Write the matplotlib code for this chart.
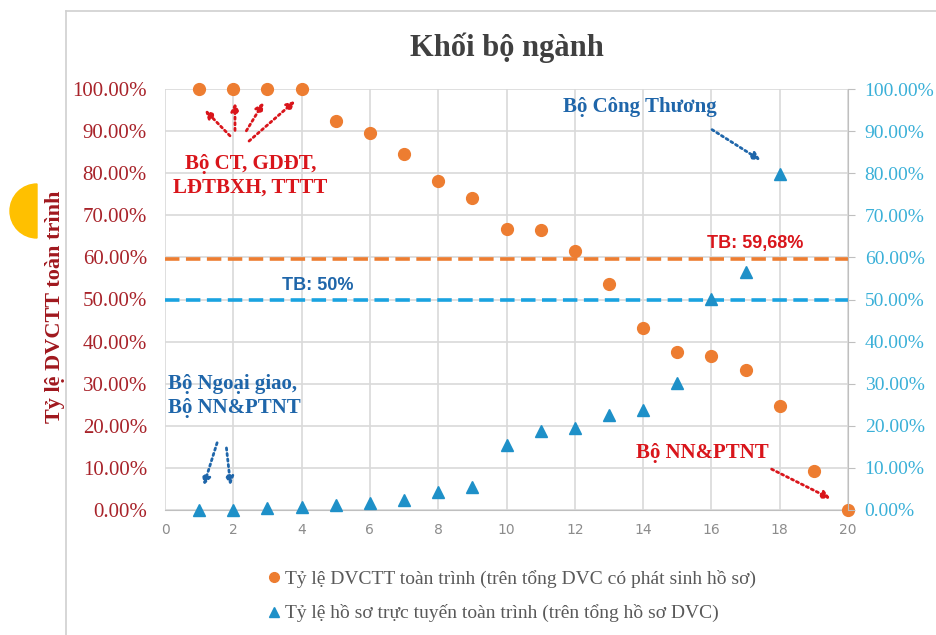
import matplotlib.pyplot as plt
from matplotlib.patches import Wedge
from matplotlib.lines import Line2D
from matplotlib.ticker import FuncFormatter

# Dữ liệu
stt = list(range(1, 21))
ty_le_dvctt = [100, 100, 100, 100, 92.4, 89.5, 84.6, 78.1, 74.1, 66.7,
               66.5, 61.5, 53.7, 43.2, 37.5, 36.6, 33.3, 24.7, 9.3, 0]
ty_le_ho_so = [0, 0, 0.5, 0.7, 1.2, 1.7, 2.4, 4.3, 5.5, 15.4,
               18.8, 19.5, 22.6, 23.8, 30.2, 50.1, 56.5, 79.8]
tb_dvctt = 59.68
tb_ho_so = 50
nhan_x = [0, 2, 4, 6, 8, 10, 12, 14, 16, 18, 20]
nhan_y = [0, 10, 20, 30, 40, 50, 60, 70, 80, 90, 100]

cam = '#ED7D31'
xanh = '#1E90C8'
xanh_nhat = '#1AA3E0'
do = '#D9151B'
xanh_dam = '#1F66AA'
serif = 'Liberation Serif'

W, H = 936, 635
fig = plt.figure(figsize=(W / 100, H / 100), dpi=100)
ax = fig.add_axes([165 / W, 1 - 510 / H, (848 - 165) / W, (510 - 89) / H])

# khung nền và hình trang trí
fig.add_artist(Line2D([66 / W, 66 / W], [0, 1 - 11 / H], transform=fig.transFigure,
                      color='#D0D0D0', lw=1.2))
fig.add_artist(Line2D([66 / W, 1], [1 - 11 / H, 1 - 11 / H], transform=fig.transFigure,
                      color='#D0D0D0', lw=1.2))
fig.add_artist(Wedge((37, H - 211), 27, 90, 270, transform=None, color='#FFC000'))

ax.set_xlim(0, 20)
ax.set_ylim(0, 100)
ax.set_xticks(nhan_x)
ax.set_yticks(nhan_y)
ax.grid(True, color='#D9D9D9', lw=1.2)
ax.set_axisbelow(True)
for s in ['top', 'left', 'right']:
    ax.spines[s].set_visible(False)
ax.spines['bottom'].set_color('#BFBFBF')
ax.tick_params(axis='x', length=0, pad=9, labelsize=10, labelcolor='#8C8C8C')
ax.tick_params(axis='y', length=0, pad=13, labelcolor='#A8232A')
pct = FuncFormatter(lambda v, p: f'{v:.2f}%')
ax.yaxis.set_major_formatter(pct)
for t in ax.get_yticklabels():
    t.set_fontfamily(serif)
    t.set_fontsize(15)

ax2 = ax.twinx()
ax2.set_ylim(0, 100)
ax2.set_yticks(nhan_y)
ax2.yaxis.set_major_formatter(pct)
for s in ['top', 'left', 'bottom']:
    ax2.spines[s].set_visible(False)
ax2.spines['right'].set_color('#BFBFBF')
ax2.tick_params(axis='y', direction='out', length=5, color='#BFBFBF', pad=7,
                labelcolor='#3AB0D8')
for t in ax2.get_yticklabels():
    t.set_fontfamily(serif)
    t.set_fontsize(14)

ax.axhline(tb_dvctt, color=cam, lw=2.6, dashes=(4, 1.8))
ax.axhline(tb_ho_so, color=xanh_nhat, lw=2.6, dashes=(4, 1.8))

ax.plot(stt, ty_le_dvctt, 'o', color=cam, ms=8.5, clip_on=False, zorder=5)
ax.plot(stt[:len(ty_le_ho_so)], ty_le_ho_so, '^', color=xanh, ms=9, clip_on=False, zorder=5)

ax.set_title('Khối bộ ngành', fontfamily=serif, fontweight='bold', fontsize=22,
             color='#404040', pad=24)
fig.text(55 / W, 1 - 307 / H, 'Tỷ lệ DVCTT toàn trình', rotation=90, ha='center', va='center',
         fontfamily=serif, fontweight='bold', fontsize=16, color='#A0181E')

# chú thích
mui_ten_do = dict(arrowstyle='-|>', color=do, lw=2, linestyle=(0, (0.8, 1.2)), mutation_scale=12)
mui_ten_xanh = dict(arrowstyle='-|>', color=xanh_dam, lw=2, linestyle=(0, (0.8, 1.2)), mutation_scale=12)
ax.text(2.5, 79.3, 'Bộ CT, GDĐT,\nLĐTBXH, TTTT', ha='center', va='center', color=do,
        fontfamily=serif, fontweight='bold', fontsize=15, linespacing=1.25)
for (x0, y0), (x1, y1) in [((1.96, 88.4), (1.11, 95.5)), ((2.05, 89.5), (2.05, 97.4)),
                           ((2.34, 89.5), (2.93, 97.4)), ((2.40, 87.2), (3.87, 97.6))]:
    ax.annotate('', xy=(x1, y1), xytext=(x0, y0), arrowprops=mui_ten_do)

ax.text(13.9, 95.7, 'Bộ Công Thương', ha='center', va='center', color=xanh_dam,
        fontfamily=serif, fontweight='bold', fontsize=15)
ax.annotate('', xy=(17.51, 82.7), xytext=(15.95, 90.7), arrowprops=mui_ten_xanh)

ax.text(17.28, 63.4, 'TB: 59,68%', ha='center', va='center', color=do,
        fontfamily='Liberation Sans', fontweight='bold', fontsize=13)
ax.text(4.48, 53.4, 'TB: 50%', ha='center', va='center', color=xanh_dam,
        fontfamily='Liberation Sans', fontweight='bold', fontsize=13)

ax.text(0.09, 27.1, 'Bộ Ngoại giao,\nBộ NN&PTNT', ha='left', va='center', color=xanh_dam,
        fontfamily=serif, fontweight='bold', fontsize=15, linespacing=1.25)
ax.annotate('', xy=(1.11, 5.2), xytext=(1.55, 16.6), arrowprops=mui_ten_xanh)
ax.annotate('', xy=(1.93, 5.2), xytext=(1.79, 15.4), arrowprops=mui_ten_xanh)

ax.text(15.75, 13.5, 'Bộ NN&PTNT', ha='center', va='center', color=do,
        fontfamily=serif, fontweight='bold', fontsize=15)
ax.annotate('', xy=(19.56, 2.4), xytext=(17.69, 10.0), arrowprops=mui_ten_do)

# chú giải
h1 = Line2D([], [], marker='o', color=cam, ls='', ms=7)
h2 = Line2D([], [], marker='^', color=xanh, ls='', ms=7)
fig.legend([h1, h2],
           ['Tỷ lệ DVCTT toàn trình (trên tổng DVC có phát sinh hồ sơ)',
            'Tỷ lệ hồ sơ trực tuyến toàn trình (trên tổng hồ sơ DVC)'],
           loc='upper left', bbox_to_anchor=(258 / W, 1 - 560 / H), frameon=False,
           handlelength=0.6, handletextpad=0.3, labelspacing=0.85,
           prop={'family': serif, 'size': 14}, labelcolor='#595959', borderpad=0)

fig.savefig('out.png', dpi=100)
